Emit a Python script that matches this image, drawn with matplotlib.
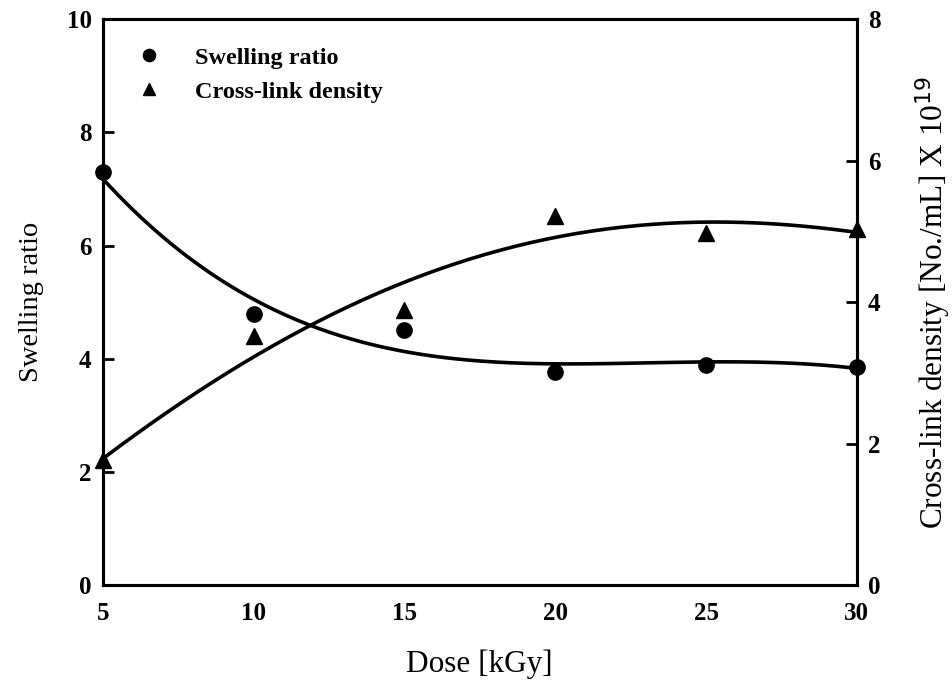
import numpy as np
import matplotlib
matplotlib.use("Agg")
import matplotlib.pyplot as plt

# measured points
dose = [5, 10, 15, 20, 25, 30]
swelling = [7.30, 4.79, 4.51, 3.76, 3.89, 3.86]
crosslink = [1.77, 3.52, 3.89, 5.21, 4.97, 5.03]

# trend lines
sw_trace_x = [5, 7, 9.4, 12, 14.75, 17, 19.2, 21.8, 25, 27.7, 30]
sw_trace_y = [7.18, 6.15, 5.21, 4.59, 4.15, 3.98, 3.92, 3.90, 3.96, 3.92, 3.83]
cl_trace_x = [5, 7.5, 9.6, 12, 14.75, 16.9, 19.2, 21.8, 25, 27.7, 30]
cl_trace_y = [1.80, 2.50, 3.18, 3.70, 4.21, 4.56, 4.87, 5.03, 5.14, 5.08, 4.99]

plt.rcParams['font.family'] = ['Liberation Serif', 'DejaVu Serif']

fig = plt.figure(figsize=(9.52, 6.91), dpi=100)
ax = fig.add_axes([0.108, 0.153, 0.792, 0.8195])
ax2 = ax.twinx()

xs = np.linspace(5, 30, 200)
sw_fit = np.polyval(np.polyfit(sw_trace_x, sw_trace_y, 4), xs)
cl_fit = np.polyval(np.polyfit(cl_trace_x, cl_trace_y, 4), xs)

ax.plot(xs, sw_fit, color='black', lw=2.6, clip_on=False)
ax2.plot(xs, cl_fit, color='black', lw=2.6, clip_on=False)
h1, = ax.plot(dose, swelling, 'o', color='black', ms=11, ls='none', clip_on=False, zorder=5)
h2, = ax2.plot(dose, crosslink, '^', color='black', ms=11, ls='none', clip_on=False, zorder=5)

ax.set_xlim(5, 30)
ax.set_ylim(0, 10)
ax2.set_ylim(0, 8)
ax.set_xticks([5, 10, 15, 20, 25, 30])
ax.set_yticks([0, 2, 4, 6, 8, 10])
ax2.set_yticks([0, 2, 4, 6, 8])

for a in (ax, ax2):
    for s in a.spines.values():
        s.set_linewidth(2.2)
    a.tick_params(direction='in', length=8, width=2, labelsize=18, pad=8)
    for lab in a.get_xticklabels() + a.get_yticklabels():
        lab.set_fontweight('bold')
ax.tick_params(axis='x', length=0, pad=12)

ax.set_xlabel('Dose [kGy]', fontsize=22.5, labelpad=18)
ax.set_ylabel('Swelling ratio', fontsize=20.5, labelpad=16)
ax2.set_ylabel(r'Cross-link density [No./mL] X 10$^{19}$', fontsize=22.5, labelpad=24)

leg = ax.legend([h1, h2], ['Swelling ratio', 'Cross-link density'], loc='upper left',
                bbox_to_anchor=(0.0, 0.99), frameon=False, handletextpad=0.9,
                markerscale=0.8, prop={'weight': 'bold', 'size': 17.5})

fig.savefig('out.png', dpi=100)
